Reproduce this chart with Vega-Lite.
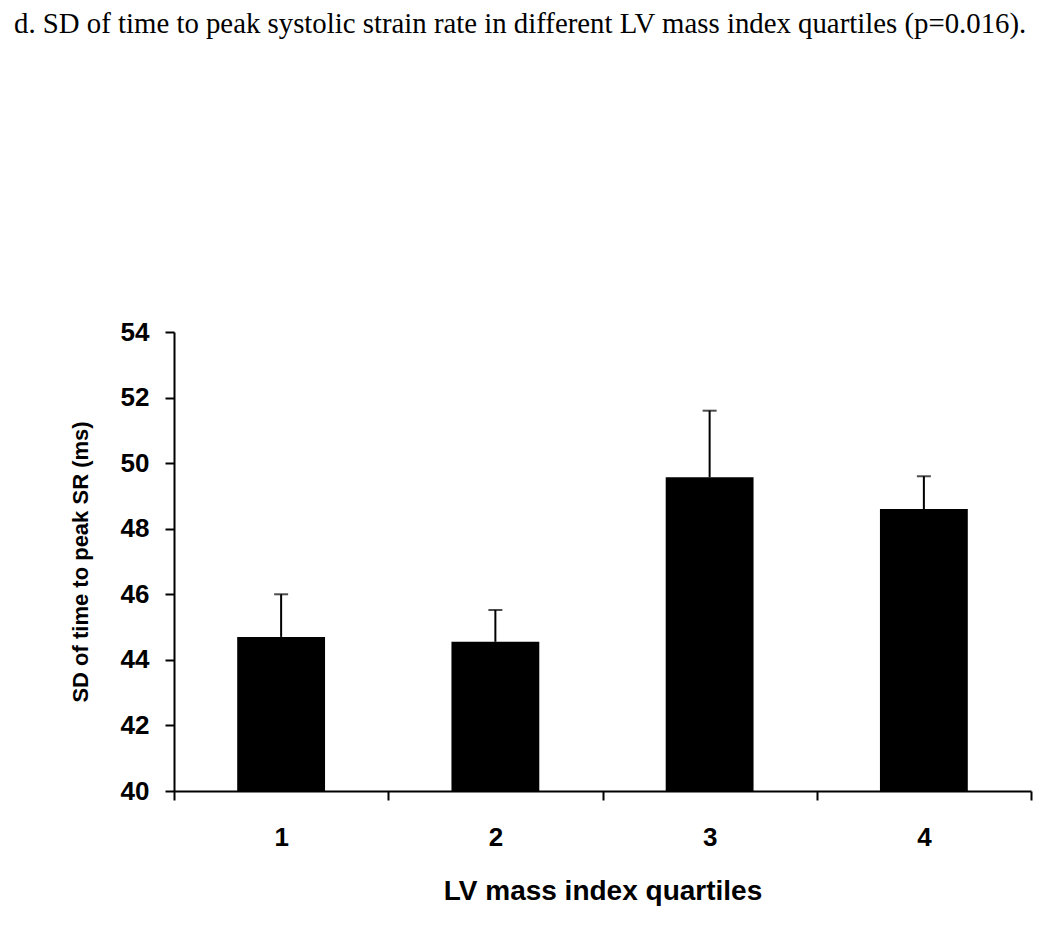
{
  "$schema": "https://vega.github.io/schema/vega-lite/v6.json",
  "width": 857,
  "height": 459,
  "autosize": {"type": "none"},
  "padding": {"left": 174, "top": 332, "right": 19, "bottom": 135},
  "background": "white",
  "title": {
    "text": "d. SD of time to peak systolic strain rate in different LV mass index quartiles (p=0.016).",
    "anchor": "start",
    "frame": "group",
    "dx": -160,
    "offset": 280,
    "font": "Liberation Serif",
    "fontSize": 28.8,
    "fontWeight": "normal",
    "color": "black"
  },
  "data": {
    "values": [
      {"quartile": "1", "mean": 44.7, "upper": 46.0},
      {"quartile": "2", "mean": 44.55, "upper": 45.52},
      {"quartile": "3", "mean": 49.57, "upper": 51.6},
      {"quartile": "4", "mean": 48.6, "upper": 49.6}
    ]
  },
  "config": {
    "view": {"stroke": null},
    "axis": {
      "domainColor": "black",
      "domainWidth": 2,
      "tickColor": "black",
      "tickWidth": 2,
      "tickSize": 9,
      "grid": false,
      "labelFont": "Liberation Sans",
      "labelFontWeight": "bold",
      "labelFontSize": 26,
      "labelColor": "black",
      "titleFont": "Liberation Sans",
      "titleFontWeight": "bold",
      "titleColor": "black"
    }
  },
  "encoding": {
    "x": {
      "field": "quartile",
      "type": "ordinal",
      "scale": {"paddingInner": 0, "paddingOuter": 0},
      "axis": {
        "title": "LV mass index quartiles",
        "titleFontSize": 28,
        "titlePadding": 27,
        "labelAngle": 0,
        "labelPadding": 24,
        "tickBand": "extent"
      }
    }
  },
  "layer": [
    {
      "mark": {"type": "bar", "color": "black", "clip": true, "width": {"band": 0.41}},
      "encoding": {
        "y": {
          "field": "mean",
          "type": "quantitative",
          "scale": {"domain": [40, 54], "nice": false, "zero": false},
          "axis": {
            "title": "SD of time to peak SR (ms)",
            "titleFontSize": 22,
            "titlePadding": 28,
            "values": [40, 42, 44, 46, 48, 50, 52, 54],
            "labelPadding": 16
          }
        }
      }
    },
    {
      "mark": {"type": "rule", "color": "black", "strokeWidth": 2},
      "encoding": {
        "y": {"field": "mean", "type": "quantitative"},
        "y2": {"field": "upper"}
      }
    },
    {
      "mark": {"type": "tick", "color": "black", "thickness": 2, "size": 14},
      "encoding": {
        "y": {"field": "upper", "type": "quantitative"}
      }
    }
  ]
}
